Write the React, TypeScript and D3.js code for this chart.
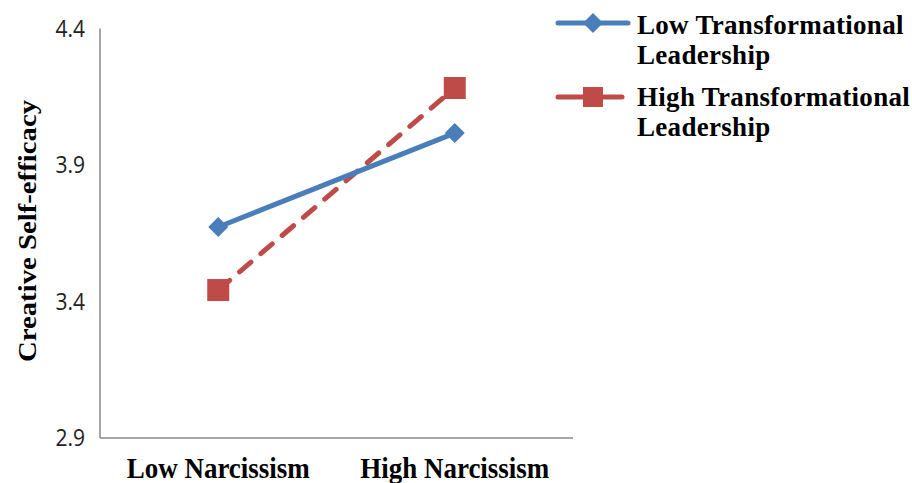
import React from "react";
import * as d3 from "d3";

const categories = ["Low Narcissism", "High Narcissism"];
const lowTL = [3.673, 4.017];
const highTL = [3.442, 4.182];
const yTicks = [2.9, 3.4, 3.9, 4.4];
const seriesNames = ["Low Transformational Leadership", "High Transformational Leadership"];

const W = 912, H = 483;
const left = 100, right = 573, top = 28.5, bottom = 438;

export default function App() {
  const x = d3.scalePoint<string>().domain(categories).range([left, right]).padding(0.5);
  const y = d3.scaleLinear().domain([2.9, 4.4]).range([bottom, top]);
  const line = d3.line<number>().x((_, i) => x(categories[i])!).y((d) => y(d));
  const blue = "#4A7EBB";
  const red = "#BE4B48";
  const serif = "'Liberation Serif', 'Times New Roman', serif";
  const sans = "'Open Sans', 'Liberation Sans', sans-serif";
  const diamond = (cx: number, cy: number, r: number) =>
    `M${cx},${cy - r}L${cx + r},${cy}L${cx},${cy + r}L${cx - r},${cy}Z`;
  const legendLines = [
    [seriesNames[0].split(" ").slice(0, 2).join(" "), seriesNames[0].split(" ")[2]],
    [seriesNames[1].split(" ").slice(0, 2).join(" "), seriesNames[1].split(" ")[2]],
  ];
  const legendBase = [34, 106];
  return (
    <svg width={W} height={H} style={{ position: "absolute", left: 0, top: 0, background: "#fff" }}>
      <rect width={W} height={H} fill="#fff" />
      {/* axes */}
      <line x1={left} x2={left} y1={top} y2={bottom} stroke="#888" strokeWidth={1.5} />
      <line x1={left} x2={right} y1={bottom} y2={bottom} stroke="#888" strokeWidth={1.5} />
      {yTicks.map((t) => (
        <text key={t} transform={`translate(85,${y(t) + 8}) scale(1,1.1)`} textAnchor="end" fontFamily={sans} fontSize={21} fill="#222">
          {t.toFixed(1)}
        </text>
      ))}
      {categories.map((c) => (
        <text key={c} transform={`translate(${x(c)!},478) scale(1,1.1)`} textAnchor="middle" fontFamily={serif} fontWeight="bold" fontSize={27} fill="#000">
          {c}
        </text>
      ))}
      <text transform={`translate(36,231) rotate(-90) scale(1.15,1)`} textAnchor="middle" fontFamily={serif} fontWeight="bold" fontSize={25} fill="#000">
        Creative Self-efficacy
      </text>
      {/* series */}
      <path d={line(highTL)!} fill="none" stroke={red} strokeWidth={5} strokeDasharray="15,13" strokeLinecap="round" />
      <path d={line(lowTL)!} fill="none" stroke={blue} strokeWidth={5} />
      {lowTL.map((v, i) => (
        <path key={"d" + i} d={diamond(x(categories[i])!, y(v), 10)} fill={blue} />
      ))}
      {highTL.map((v, i) => (
        <rect key={"s" + i} x={x(categories[i])! - 11} y={y(v) - 11} width={22} height={22} fill={red} />
      ))}
      {/* legend */}
      <line x1={558} x2={628} y1={23} y2={23} stroke={blue} strokeWidth={5} strokeLinecap="round" />
      <path d={diamond(593, 23, 10)} fill={blue} />
      <line x1={558} x2={622} y1={97} y2={97} stroke={red} strokeWidth={5} strokeLinecap="round" />
      <rect x={583} y={87} width={20} height={20} fill={red} />
      {legendLines.map((ls, i) =>
        ls.map((t, j) => (
          <text key={i + "-" + j} x={637} y={legendBase[i] + j * 30} fontFamily={serif} fontWeight="bold" fontSize={27} letterSpacing={0.3} fill="#000">
            {t}
          </text>
        ))
      )}
    </svg>
  );
}
